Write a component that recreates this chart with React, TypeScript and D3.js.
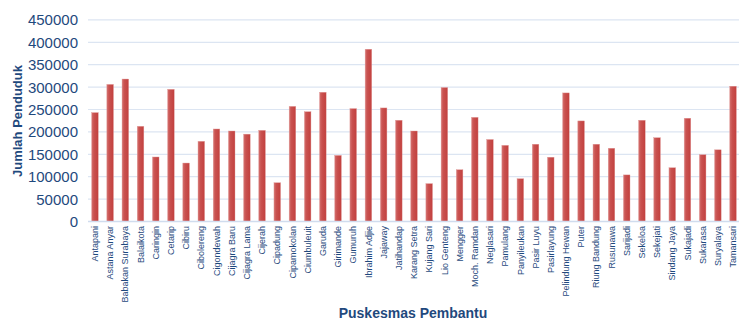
import React from "react";
import * as d3 from "d3";

const categories: string[] = [
  "Antapani", "Astana Anyar", "Babakan Surabaya", "Balaikota", "Caringin", "Cetarip",
  "Cibiru", "Cibolereng", "Cigondewah", "Cijagra Baru", "Cijagra Lama", "Cijerah",
  "Cipadung", "Cipamokolan", "Ciumbuleuit", "Garuda", "Girimande", "Gumuruh",
  "Ibrahim Adjie", "Jajaway", "Jatihandap", "Karang Setra", "Kujang Sari", "Lio Genteng",
  "Mengger", "Moch. Ramdan", "Neglasari", "Pamulang", "Panyileukan", "Pasir Luyu",
  "Pasirlayung", "Pelindung Hewan", "Puter", "Riung Bandung", "Rusunawa", "Sarijadi",
  "Sekeloa", "Sekejati", "Sindang Jaya", "Sukajadi", "Sukarasa", "Suryalaya", "Tamansari",
];

const populations: number[] = [
  243000, 306000, 318000, 212500, 144000, 295000,
  130500, 179000, 206500, 202000, 195000, 203500,
  86500, 257000, 245000, 288500, 147500, 252000,
  384500, 253500, 226000, 202000, 84500, 299000,
  115500, 232500, 183000, 170000, 95500, 172500,
  143500, 287000, 224500, 172500, 163500, 104000,
  226000, 187000, 120000, 230500, 149000, 160000, 302000,
];

const yTicks: number[] = [0, 50000, 100000, 150000, 200000, 250000, 300000, 350000, 400000, 450000];

const xTitle = "Puskesmas Pembantu";
const yTitle = "Jumlah Penduduk";

const W = 739;
const H = 322;
const left = 87.4;
const right = 740.6;
const top = 19.9;
const bottom = 221.5;
const textColor = "#1F497D";
const font = "'Liberation Sans', Arial, sans-serif";

export default function App() {
  const x = d3.scaleBand<string>().domain(categories).range([left, right]).paddingInner(0.565).paddingOuter(0.28);
  const y = d3.scaleLinear().domain([0, 450000]).range([bottom, top]);
  const bw = x.bandwidth();

  return (
    <svg width={W} height={H} style={{ position: "absolute", left: 0, top: 0, background: "#fff" }}>
      <defs>
        <linearGradient id="barGrad" x1="0" y1="0" x2="1" y2="0">
          <stop offset="0" stopColor="#d4716f" />
          <stop offset="0.35" stopColor="#c9514f" />
          <stop offset="1" stopColor="#c2403e" />
        </linearGradient>
      </defs>
      {yTicks.map((t) => (
        <g key={t}>
          {t > 0 && (
            <line x1={88} x2={W} y1={y(t)} y2={y(t)} stroke="#dce5f2" strokeWidth={1.2} />
          )}
          <text
            x={78}
            y={y(t)}
            dy="0.36em"
            textAnchor="end"
            fontFamily={font}
            fontSize={15}
            fill={textColor}
          >
            {t}
          </text>
        </g>
      ))}
      {categories.map((c, i) => (
        <rect
          key={c}
          x={x(c)!}
          y={y(populations[i])}
          width={bw}
          height={bottom - y(populations[i])}
          fill="url(#barGrad)"
          stroke="#e09a98"
          strokeWidth={0.4}
        />
      ))}
      <line x1={88} x2={W} y1={bottom} y2={bottom} stroke="#d0dcee" strokeWidth={1.5} />
      {categories.map((c) => {
        const cx = x(c)! + bw / 2;
        return (
          <text
            key={c}
            transform={`translate(${cx},${226}) rotate(-90)`}
            textAnchor="end"
            dy="0.35em"
            fontFamily={font}
            fontSize={9}
            fill={textColor}
          >
            {c}
          </text>
        );
      })}
      <text
        x={413}
        y={318}
        textAnchor="middle"
        fontFamily={font}
        fontSize={14}
        fontWeight="bold"
        fill={textColor}
      >
        {xTitle}
      </text>
      <text
        transform={`translate(22,${121}) rotate(-90)`}
        textAnchor="middle"
        fontFamily={font}
        fontSize={13}
        fontWeight="bold"
        fill={textColor}
      >
        {yTitle}
      </text>
    </svg>
  );
}
